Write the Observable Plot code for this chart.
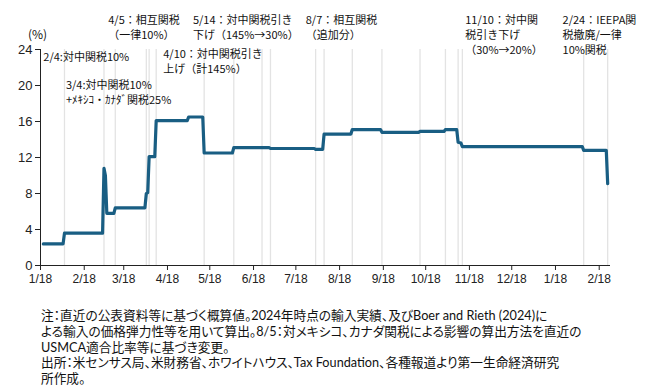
<!DOCTYPE html>
<html>
<head>
<meta charset="utf-8">
<script src="https://cdn.jsdelivr.net/npm/d3@7"></script>
<script src="https://cdn.jsdelivr.net/npm/@observablehq/plot@0.6"></script>
<style>
  html, body { margin: 0; padding: 0; background: #fff; }
  #chart svg { display: block; }
  #notes {
    margin: 18px 0 0 41px;
    font-family: "Lato", "Noto Sans CJK JP", sans-serif;
    font-feature-settings: "palt";
    font-size: 12.7px;
    line-height: 15.8px;
    color: #111;
    white-space: nowrap;
  }
</style>
</head>
<body>
<div id="chart"></div>
<div id="notes"></div>
<script>
// Effective US tariff rate (%) – step series
const dates = ["2025-01-20","2025-02-03","2025-02-04","2025-03-03","2025-03-04","2025-03-05","2025-03-06","2025-03-11","2025-03-12","2025-04-02","2025-04-03","2025-04-04","2025-04-05","2025-04-09","2025-04-10","2025-05-02","2025-05-03","2025-05-13","2025-05-14","2025-06-03","2025-06-04","2025-06-29","2025-06-30","2025-07-31","2025-08-01","2025-08-06","2025-08-07","2025-08-26","2025-08-27","2025-09-16","2025-09-17","2025-10-13","2025-10-14","2025-10-31","2025-11-01","2025-11-09","2025-11-10","2025-11-12","2025-11-13","2026-02-06","2026-02-07","2026-02-23","2026-02-24"];
const rates = [2.4,2.4,3.6,3.6,10.8,10.0,5.8,5.8,6.4,6.4,8.0,8.1,12.1,12.1,16.1,16.1,16.5,16.5,12.5,12.5,13.1,13.1,13.0,13.0,12.9,12.9,14.6,14.6,15.1,15.1,14.8,14.8,14.9,14.9,15.1,15.1,13.7,13.6,13.2,13.2,12.8,12.8,9.1];

// Event dates (light vertical lines)
const eventDates = ["2025-02-04","2025-03-04","2025-03-12","2025-04-03","2025-04-05","2025-04-10","2025-05-14","2025-06-04","2025-06-24","2025-06-30","2025-08-01","2025-08-07","2025-08-27","2025-09-17","2025-10-14","2025-11-01","2025-11-10","2025-11-13","2026-02-07","2026-02-24"];

// Axis ticks
const xTickDates = ["2025-01-18","2025-02-18","2025-03-18","2025-04-18","2025-05-18","2025-06-18","2025-07-18","2025-08-18","2025-09-18","2025-10-18","2025-11-18","2025-12-18","2026-01-18","2026-02-18"];
const yTicks = [0,4,8,12,16,20,24];

// Annotations
const annoTexts = [
  "2/4:対中関税10%",
  "3/4:対中関税10%\n+ﾒｷｼｺ・ｶﾅﾀﾞ関税25%",
  "4/5：相互関税\n（一律10%）",
  "4/10：対中関税引き\n上げ（計145%）",
  "5/14：対中関税引き\n下げ（145%→30%）",
  "8/7：相互関税\n（追加分）",
  "11/10：対中関\n税引き下げ\n（30%→20%）",
  "2/24：IEEPA関\n税撤廃/一律\n10%関税"
];
const annoDates = ["2025-01-20","2025-02-05","2025-03-07","2025-04-15","2025-05-06","2025-07-25","2025-11-15","2026-01-23"];
const annoY = [23.9,20.8,28.0,24.2,28.0,28.0,28.0,28.0];

const noteLines = [
  "注：直近の公表資料等に基づく概算値。2024年時点の輸入実績、及びBoer and Rieth (2024)に",
  "よる輸入の価格弾力性等を用いて算出。8/5：対メキシコ、カナダ関税による影響の算出方法を直近の",
  "USMCA適合比率等に基づき変更。",
  "出所：米センサス局、米財務省、ホワイトハウス、Tax Foundation、各種報道より第一生命経済研究",
  "所作成。"
];

const parse = s => new Date(s + "T00:00:00Z");
const series = dates.map((d, i) => ({date: parse(d), rate: rates[i]}));
const events = eventDates.map(parse);
const xTicks = xTickDates.map(parse);
const annos = annoTexts.map((t, i) => ({text: t, date: parse(annoDates[i]), y: annoY[i]}));
const xStart = parse("2025-01-18");
const xEnd = parse("2026-02-26");

const chart = Plot.plot({
  width: 648,
  height: 290,
  marginLeft: 40,
  marginRight: 38,
  marginTop: 49,
  marginBottom: 25,
  style: {fontFamily: "'Liberation Sans', Arial, sans-serif", color: "#222", background: "#fff"},
  x: {type: "utc", domain: [xStart, xEnd]},
  y: {domain: [0, 24]},
  marks: [
    Plot.ruleX(events, {x: d => d, y1: 0, y2: 24, stroke: "#e3e3e3", strokeWidth: 1.3}),
    Plot.axisY({ticks: yTicks, tickSize: 5, tickPadding: 3, fontSize: 13, label: null, stroke: "#222"}),
    Plot.axisX({ticks: xTicks, tickSize: 5, tickPadding: 4, fontSize: 12, label: null,
      tickFormat: d => `${d.getUTCMonth() + 1}/${d.getUTCDate()}`, stroke: "#222"}),
    Plot.ruleX([xStart], {y1: 0, y2: 24, stroke: "#222"}),
    Plot.ruleY([0], {stroke: "#222"}),
    Plot.line(series, {x: "date", y: "rate", stroke: "#195e83", strokeWidth: 3.2, strokeLinejoin: "round"}),
    Plot.text(["(%)"], {x: xStart, y: 25.6, text: d => d, textAnchor: "middle", dx: -3, fontSize: 12,
      fontFamily: "'Noto Sans CJK JP', sans-serif", fill: "#111"}),
    Plot.text(annos, {x: "date", y: "y", text: "text", textAnchor: "start", lineAnchor: "top",
      lineHeight: 1.36, fontSize: 11, fontFamily: "'Noto Sans CJK JP', sans-serif", fill: "#111"})
  ]
});
document.getElementById("chart").appendChild(chart);
document.getElementById("notes").innerHTML = noteLines.map(l => `<div>${l}</div>`).join("");
</script>
</body>
</html>
